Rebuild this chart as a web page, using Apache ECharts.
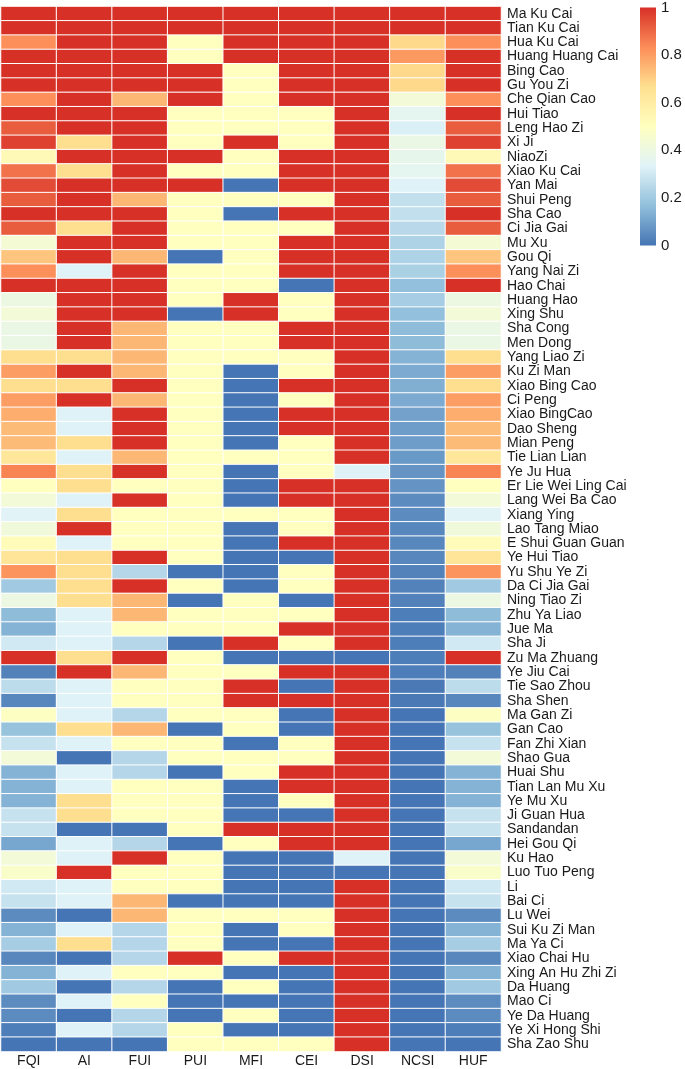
<!DOCTYPE html>
<html>
<head>
<meta charset="utf-8">
<script src="https://cdn.jsdelivr.net/npm/echarts@6/dist/echarts.min.js"></script>
<style>
html,body{margin:0;padding:0;background:#fff;}
#chart{width:685px;height:1069px;}
</style>
</head>
<body>
<div id="chart"></div>
<script>
const columns = ['FQI','AI','FUI','PUI','MFI','CEI','DSI','NCSI','HUF'];
const rows = ['Ma Ku Cai','Tian Ku Cai','Hua Ku Cai','Huang Huang Cai','Bing Cao','Gu You Zi','Che Qian Cao','Hui Tiao','Leng Hao Zi','Xi Ji','NiaoZi','Xiao Ku Cai','Yan Mai','Shui Peng','Sha Cao','Ci Jia Gai','Mu Xu','Gou Qi','Yang Nai Zi','Hao Chai','Huang Hao','Xing Shu','Sha Cong','Men Dong','Yang Liao Zi','Ku Zi Man','Xiao Bing Cao','Ci Peng','Xiao BingCao','Dao Sheng','Mian Peng','Tie Lian Lian','Ye Ju Hua','Er Lie Wei Ling Cai','Lang Wei Ba Cao','Xiang Ying','Lao Tang Miao','E Shui Guan Guan','Ye Hui Tiao','Yu Shu Ye Zi','Da Ci Jia Gai','Ning Tiao Zi','Zhu Ya Liao','Jue Ma','Sha Ji','Zu Ma Zhuang','Ye Jiu Cai','Tie Sao Zhou','Sha Shen','Ma Gan Zi','Gan Cao','Fan Zhi Xian','Shao Gua','Huai Shu','Tian Lan Mu Xu','Ye Mu Xu','Ji Guan Hua','Sandandan','Hei Gou Qi','Ku Hao','Luo Tuo Peng','Li','Bai Ci','Lu Wei','Sui Ku Zi Man','Ma Ya Ci','Xiao Chai Hu','Xing An Hu Zhi Zi','Da Huang','Mao Ci','Ye Da Huang','Ye Xi Hong Shi','Sha Zao Shu'];

const FQI = [1,1,0.83,1,1,1,0.83,1,0.92,0.97,0.53,0.88,0.95,0.92,1,0.92,0.44,0.72,0.83,1,0.4,0.43,0.39,0.39,0.67,0.8,0.67,0.8,0.77,0.74,0.74,0.63,0.85,0.5,0.43,0.34,0.42,0.52,0.64,0.82,0.2,0.4,0.16,0.14,0.3,1,0.03,0.26,0.04,0.49,0.18,0.28,0.43,0.14,0.14,0.14,0.28,0.28,0.11,0.43,0.47,0.3,0.28,0.05,0.14,0.21,0.04,0.14,0.2,0.05,0.05,0.02,0];
const AI = [1,1,1,1,1,1,1,1,1,0.67,1,0.67,1,1,1,0.67,1,1,0.33,1,1,1,1,1,0.67,1,0.67,1,0.33,0.33,0.67,0.33,0.67,0.67,0.33,0.67,1,0.33,0.67,0.67,0.67,0.67,0.33,0.33,0.33,0.67,1,0.33,0.33,0.33,0.67,0.33,0,0.33,0.33,0.67,0.67,0,0.33,0.33,1,0.33,0.33,0,0.33,0.67,0,0.33,0,0.33,0,0.33,0];
const FUI = [1,1,1,1,1,1,0.75,1,1,1,1,1,1,0.75,1,1,1,0.75,1,1,1,1,0.75,0.75,0.75,0.75,1,0.75,1,1,1,0.75,1,0.5,1,0.5,0.5,0.5,1,0.24,1,0.75,0.75,0.5,0.24,1,0.75,0.5,0.5,0.24,0.75,0.5,0.24,0.24,0.5,0.5,0.5,0,0.24,1,0.5,0.5,0.75,0.75,0.24,0.24,0.24,0.5,0.24,0.5,0.24,0.24,0];
const PUI = [1,1,0.5,0.5,1,1,1,0.5,0.5,0.5,1,0.5,1,0.5,0.5,0.5,0.5,0,0.5,0.5,0.5,0,0.5,0.5,0.5,0.5,0.5,0.5,0.5,0.5,0.5,0.5,0.5,0.5,0.5,0.5,0.5,0.5,0.5,0,0.5,0,0.5,0.5,0,0.5,0.5,0.5,0.5,0.5,0,0.5,0.5,0,0.5,0.5,0.5,0.5,0,0.5,0.5,0.5,0,0.5,0.5,0.5,1,0.5,0,0,0,0.5,0.5];
const MFI = [1,1,1,1,0.5,0.5,0.5,0.5,0.5,1,0.5,0.5,0,0.5,0,0.5,0.5,0.5,0.5,0.5,1,1,0.5,0.5,0.5,0,0,0,0,0,0,0.5,0,0,0,0.5,0,0,0,0,0,0.5,0.5,0.5,1,0,0.5,1,1,0.5,0.5,0,0.5,0.5,0,0,0,1,0.5,0,0,0,0,0.5,0,0,0.5,0,0.5,0,0.5,0,0.5];
const CEI = [1,1,1,1,1,1,1,0.5,0.5,0.5,1,1,1,0.5,1,0.5,1,1,1,0,0.5,0.5,1,1,0.5,0.5,1,0.5,1,1,0.5,0.5,0.5,1,1,0.5,0.5,1,0,0.5,0.5,0,0.5,1,0.5,0,1,0,1,0,0,0.5,0.5,1,1,0.5,0,1,1,0,0,0,0,0.5,0.5,0,1,0,0,0,0,0,0.5];
const DSI = [1,1,1,1,1,1,1,1,1,1,1,1,1,1,1,1,1,1,1,1,1,1,1,1,1,1,1,1,1,1,1,1,0.33,1,1,1,1,1,1,1,1,1,1,1,1,0,1,1,1,1,1,1,1,1,1,1,1,1,1,0.33,0,1,1,1,1,1,1,1,1,1,1,1,1];
const NCSI = [1,1,0.68,0.81,0.68,0.68,0.43,0.36,0.32,0.39,0.37,0.36,0.33,0.27,0.27,0.25,0.23,0.23,0.22,0.17,0.21,0.17,0.16,0.16,0.14,0.12,0.13,0.12,0.1,0.09,0.09,0.08,0.07,0.07,0.05,0.05,0.04,0.04,0.04,0.03,0.03,0.03,0.02,0.02,0.02,0.02,0.02,0.01,0.01,0,0,0,0,0,0,0,0,0,0,0,0,0,0,0,0,0,0,0,0,0,0,0,0];
const HUF = [1,1,0.83,1,1,1,0.83,1,0.92,0.97,0.53,0.88,0.95,0.92,1,0.92,0.44,0.72,0.83,1,0.4,0.43,0.39,0.39,0.67,0.8,0.67,0.8,0.77,0.74,0.74,0.63,0.85,0.5,0.43,0.34,0.42,0.52,0.64,0.82,0.2,0.4,0.16,0.14,0.3,1,0.03,0.26,0.04,0.49,0.18,0.28,0.43,0.14,0.14,0.14,0.28,0.28,0.11,0.43,0.47,0.3,0.28,0.05,0.14,0.21,0.04,0.14,0.2,0.05,0.05,0.02,0];

const colorbarTicks = [0, 0.2, 0.4, 0.6, 0.8, 1];
const colorbarRange = [0, 1];
const palette = ['#4575B4','#91BFDB','#E0F3F8','#FFFFBF','#FEE090','#FC8D59','#D73027'];

const valuesByColumn = [FQI, AI, FUI, PUI, MFI, CEI, DSI, NCSI, HUF];
const cells = [];
valuesByColumn.forEach((arr, ci) => {
  arr.forEach((v, ri) => cells.push([ci, ri, v]));
});

const gradient = new echarts.graphic.LinearGradient(0, 1, 0, 0,
  palette.map((c, i) => ({offset: i / (palette.length - 1), color: c})));

const FONT = '"Liberation Sans", Arial, Helvetica, sans-serif';
const chart = echarts.init(document.getElementById('chart'), null, {renderer: 'canvas'});
chart.setOption({
  animation: false,
  backgroundColor: '#ffffff',
  grid: [
    {left: 1, right: 184, top: 6.5, bottom: 17.5},
    {left: 640, width: 16, top: 6.5, height: 239}
  ],
  xAxis: [
    {
      type: 'category', gridIndex: 0, data: columns, position: 'bottom',
      axisLine: {show: false}, axisTick: {show: false}, splitLine: {show: false},
      axisLabel: {fontSize: 14, color: '#1a1a1a', fontFamily: FONT, margin: 3}
    },
    {type: 'category', gridIndex: 1, data: [''], show: false}
  ],
  yAxis: [
    {
      type: 'category', gridIndex: 0, data: rows, inverse: true, position: 'right',
      axisLine: {show: false}, axisTick: {show: false}, splitLine: {show: false},
      axisLabel: {fontSize: 14, color: '#1a1a1a', fontFamily: FONT, margin: 6, align: 'left', interval: 0}
    },
    {
      type: 'value', gridIndex: 1, min: colorbarRange[0], max: colorbarRange[1], interval: 0.2, position: 'right',
      axisLine: {show: false}, axisTick: {show: false}, splitLine: {show: false},
      axisLabel: {fontSize: 15, color: '#1a1a1a', fontFamily: FONT, margin: 5,
        customValues: colorbarTicks,
        formatter: v => String(Math.round(v * 10) / 10)}
    }
  ],
  visualMap: {
    type: 'continuous', seriesIndex: 0, min: 0, max: 1, show: false,
    inRange: {color: palette}
  },
  series: [
    {
      type: 'heatmap', xAxisIndex: 0, yAxisIndex: 0, data: cells,
      itemStyle: {borderColor: '#ffffff', borderWidth: 1},
      emphasis: {disabled: true}
    },
    {
      type: 'bar', xAxisIndex: 1, yAxisIndex: 1, data: [colorbarRange[1]],
      barWidth: '100%', silent: true,
      itemStyle: {color: gradient, borderRadius: 0}
    }
  ]
});
</script>
</body>
</html>
